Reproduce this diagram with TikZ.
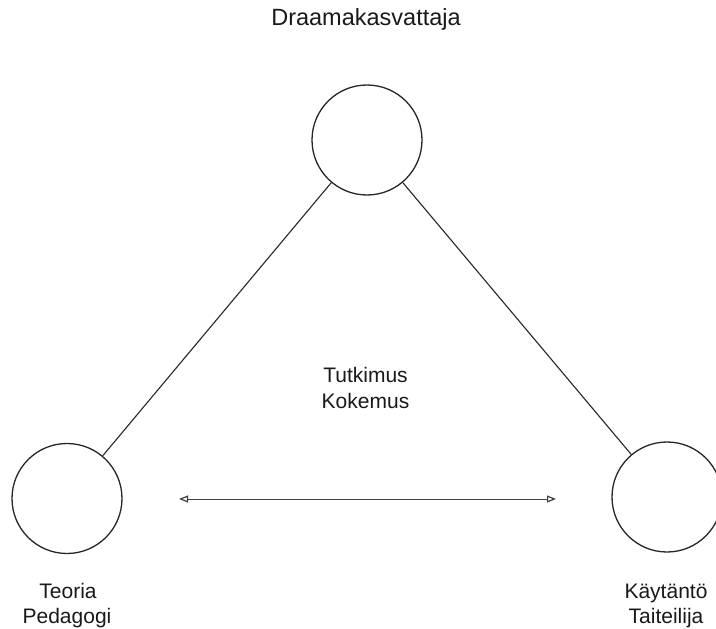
\documentclass[tikz,border=0pt]{standalone}
\usepackage{fontspec}
\setmainfont{Liberation Sans}
\usetikzlibrary{arrows.meta}
\begin{document}
\begin{tikzpicture}[x=1pt,y=-1pt,
  role/.style={draw=black!85,line width=1.3pt,circle,minimum size=110pt,inner sep=0pt},
  link/.style={draw=black!85,line width=1.1pt},
  lbl/.style={font=\fontsize{21}{26}\selectfont,text=black!90,align=center,inner sep=0pt}]
\useasboundingbox (0,0) rectangle (716,629);
\node[role] (top) at (367,140) {};
\node[role] (left) at (67,498.5) {};
\node[role] (right) at (667,497) {};
\draw[link] (top) -- (left);
\draw[link] (top) -- (right);
\coordinate (al) at (179,499);
\coordinate (ar) at (556,499);
\draw[draw=black!75,line width=0.9pt,{Triangle[open,length=9pt,width=7pt,line width=1.2pt]}-{Triangle[open,length=9pt,width=7pt,line width=1.2pt]}] (al) -- (ar);
\node[lbl,anchor=base,font=\fontsize{23.5}{26}\selectfont] (title) at (366,26) {Draamakasvattaja};
\node[lbl,anchor=base] (mid) at (365.5,382.5) {Tutkimus};
\node[lbl,anchor=base] (mid2) at (365.5,408.5) {Kokemus};
\node[lbl,anchor=base] (lt) at (68,598) {Teoria};
\node[lbl,anchor=base] (lt2) at (67,623) {Pedagogi};
\node[lbl,anchor=base] (rt) at (666,598) {Käytäntö};
\node[lbl,anchor=base] (rt2) at (666,623) {Taiteilija};
\end{tikzpicture}
\end{document}
